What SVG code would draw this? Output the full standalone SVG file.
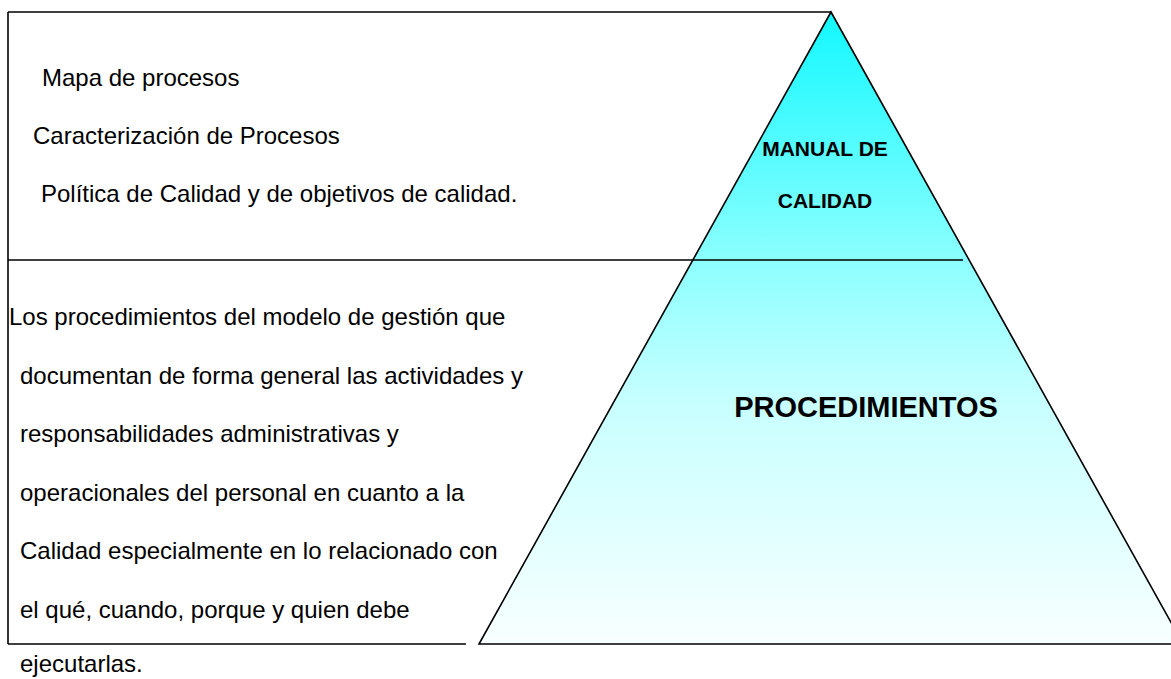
<svg xmlns="http://www.w3.org/2000/svg" width="1171" height="679" viewBox="0 0 1171 679">
<style>
.ln{stroke:#000;stroke-width:1.6;fill:none}
.t{font-family:"Liberation Sans",Arial,sans-serif;font-size:24px;fill:#000}
.b{font-family:"Liberation Sans",Arial,sans-serif;font-weight:bold;fill:#000;text-anchor:middle}
</style>
<defs>
<linearGradient id="g" x1="0" y1="12" x2="0" y2="644" gradientUnits="userSpaceOnUse">
<stop offset="0" stop-color="#12F8FF"/>
<stop offset="0.38" stop-color="#88FFFF"/>
<stop offset="0.62" stop-color="#C8FFFF"/>
<stop offset="1" stop-color="#F8FFFF"/>
</linearGradient>
</defs>
<rect width="1171" height="679" fill="#fff"/>
<g id="pyramid">
<polygon points="831,12 479,644 1183,644" fill="url(#g)" stroke="#000" stroke-width="1.6"/>
</g>
<g id="connectors">
<line class="ln" x1="8" y1="12" x2="831" y2="12"/>
<line class="ln" x1="8" y1="12" x2="8" y2="644"/>
<line class="ln" x1="8" y1="260" x2="963" y2="260"/>
<line class="ln" x1="8" y1="644" x2="466" y2="644"/>
</g>
<g id="manual">
<text class="b" x="825" y="156" font-size="21">MANUAL DE</text>
<text class="b" x="825" y="208" font-size="21">CALIDAD</text>
</g>
<g id="procedimientos">
<text class="b" x="866" y="417" font-size="29">PROCEDIMIENTOS</text>
</g>
<g id="top-text">
<text class="t" x="42" y="86">Mapa de procesos</text>
<text class="t" x="33" y="144">Caracterización de Procesos</text>
<text class="t" x="41" y="202">Política de Calidad y de objetivos de calidad.</text>
</g>
<g id="bottom-text">
<text class="t" x="9" y="325">Los procedimientos del modelo de gestión que</text>
<text class="t" x="20" y="384">documentan de forma general las actividades y</text>
<text class="t" x="20" y="442">responsabilidades administrativas y</text>
<text class="t" x="20" y="501">operacionales del personal en cuanto a la</text>
<text class="t" x="20" y="559">Calidad especialmente en lo relacionado con</text>
<text class="t" x="20" y="618">el qué, cuando, porque y quien debe</text>
<text class="t" x="20" y="672">ejecutarlas.</text>
</g>
</svg>
